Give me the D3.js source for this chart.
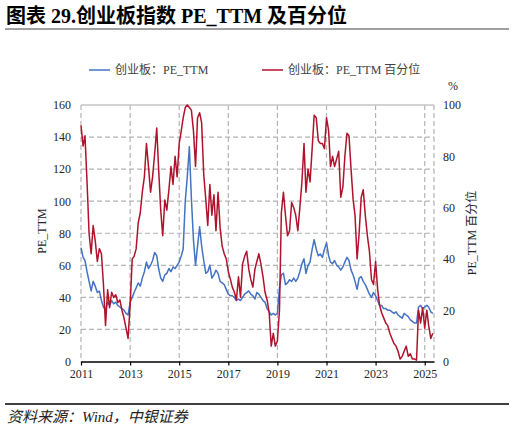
<!DOCTYPE html>
<html>
<head>
<meta charset="utf-8">
<script src="https://cdn.jsdelivr.net/npm/d3@7"></script>
<style>
  body { margin: 0; background: #fff; }
  svg { display: block; font-family: "Liberation Serif", "Noto Sans CJK SC", serif; }
</style>
</head>
<body>
<svg id="chart" width="514" height="431"></svg>
<script>
// monthly readings, Jan 2011 .. May 2025
const START_MONTH = new Date(2011, 0, 1);
const END_MONTH = new Date(2025, 5, 1);

// PE_TTM (left axis)
const peTTM = [
  71, 65, 63, 56, 50, 44, 50, 47, 43, 44, 38, 34, // 2011
  32, 37, 35, 38, 36, 37, 35, 34, 33, 32, 30, 29, // 2012
  37, 40, 43, 46, 49, 47, 52, 56, 62, 58, 60, 63, // 2013
  68, 66, 58, 52, 50, 54, 55, 58, 56, 59, 58, 60, // 2014
  62, 66, 70, 100, 115, 134, 102, 76, 60, 72, 84, 72, // 2015
  63, 55, 56, 60, 52, 54, 57, 55, 50, 49, 48, 45, // 2016
  42, 41, 41, 40, 38, 39, 38, 40, 42, 43, 44, 42, // 2017
  41, 39, 43, 42, 40, 38, 37, 33, 31, 29, 30, 29, // 2018
  30, 46, 54, 55, 48, 49, 51, 50, 52, 50, 52, 56, // 2019
  61, 64, 55, 60, 62, 70, 76, 70, 66, 67, 65, 70, // 2020
  74, 66, 62, 61, 63, 60, 59, 57, 59, 62, 65, 63, // 2021
  57, 54, 50, 45, 52, 53, 50, 48, 45, 42, 40, 43, // 2022
  41, 38, 35, 35, 33, 33, 32, 32, 31, 30, 31, 29, // 2023
  28, 27, 30, 29, 28, 26, 25, 24, 24, 34, 35, 33, // 2024
  34, 35, 34, 31, 30 // 2025
];

// PE_TTM percentile, % (right axis)
const peRank = [
  92, 84, 88, 70, 50, 42, 53, 47, 39, 44, 42, 30, // 2011
  14, 28, 21, 27, 25, 26, 23, 24, 20, 17, 13, 9, // 2012
  22, 40, 41, 44, 54, 58, 66, 72, 85, 76, 66, 72, // 2013
  81, 91, 75, 59, 49, 63, 59, 67, 76, 69, 80, 72, // 2014
  85, 90, 95, 99, 100, 99, 98, 90, 76, 95, 97, 93, // 2015
  73, 63, 53, 69, 57, 65, 51, 66, 52, 45, 42, 40, // 2016
  35, 32, 29, 27, 24, 33, 25, 38, 41, 43, 36, 32, // 2017
  29, 36, 39, 42, 38, 33, 27, 24, 19, 6, 11, 6, // 2018
  8, 20, 58, 66, 57, 49, 51, 62, 60, 57, 51, 60, // 2019
  70, 85, 66, 75, 70, 83, 96, 95, 86, 85, 85, 83, // 2020
  95, 90, 76, 80, 76, 79, 82, 64, 68, 80, 89, 88, // 2021
  75, 63, 57, 40, 50, 64, 67, 57, 49, 43, 32, 30, // 2022
  39, 28, 22, 19, 17, 15, 14, 11, 9, 7, 6, 4, // 2023
  1, 2, 4, 6, 2, 3, 1, 1, 0.5, 20, 15, 21, // 2024
  13, 20, 14, 9, 11 // 2025
];

const xTickLabels = ["2011", "2013", "2015", "2017", "2019", "2021", "2023", "2025"];
const leftTicks = [0, 20, 40, 60, 80, 100, 120, 140, 160];
const rightTicks = [0, 20, 40, 60, 80, 100];

const TITLE = "图表 29.创业板指数 PE_TTM 及百分位";
const SERIES_NAMES = ["创业板：PE_TTM", "创业板：PE_TTM 百分位"];
const SOURCE = "资料来源：Wind，中银证券";

const BLUE = "#4472c4";
const RED = "#b0122c";
const GRID = "#b4b4b4";

const months = d3.timeMonth.range(START_MONTH, END_MONTH);
const dataPE = months.map((d, i) => ({ date: d, v: peTTM[i] }));
const dataRank = months.map((d, i) => ({ date: d, v: peRank[i] }));

const SVG = d3.select("#chart");
const LEFT = 81, RIGHT = 434, TOP = 105, BOTTOM = 361.5;

const X = d3.scaleTime()
  .domain([new Date(2011, 0, 1), new Date(2025, 4, 19)])
  .range([LEFT, RIGHT]);
const Y_LEFT = d3.scaleLinear().domain([0, 160]).range([BOTTOM, TOP]);
const Y_RIGHT = d3.scaleLinear().domain([0, 100]).range([BOTTOM, TOP]);
const xTicks = xTickLabels.map((s) => new Date(+s, 0, 1));

// TITLE
SVG.append("text")
  .attr("x", 6)
  .attr("y", 23)
  .style("font-size", "20px")
  .style("font-weight", "bold")
  .style("fill", "#000")
  .text(TITLE);
SVG.append("line")
  .attr("x1", 5).attr("x2", 509)
  .attr("y1", 29).attr("y2", 29)
  .style("stroke", "#808080")
  .style("stroke-width", 1.5);

// LEGEND
const LEGEND = [
  { name: SERIES_NAMES[0], color: BLUE, x: 89 },
  { name: SERIES_NAMES[1], color: RED, x: 262 },
];
LEGEND.forEach((l) => {
  const g = SVG.append("g").attr("transform", `translate(${l.x},70)`);
  g.append("line")
    .attr("x1", 0).attr("x2", 21)
    .style("stroke", l.color)
    .style("stroke-width", 1.5);
  g.append("text")
    .attr("x", 26)
    .attr("y", 4)
    .style("font-size", "12px")
    .style("fill", "#404040")
    .text(l.name);
});

// GRID
const GRID_G = SVG.append("g").attr("id", "grid");
GRID_G.selectAll(".hgrid")
  .data(leftTicks.filter((t) => t > 0 && t < 160))
  .join("line")
  .attr("class", "hgrid")
  .attr("x1", LEFT).attr("x2", RIGHT)
  .attr("y1", (d) => Y_LEFT(d)).attr("y2", (d) => Y_LEFT(d))
  .style("stroke", GRID)
  .style("stroke-width", 1.2)
  .style("stroke-dasharray", "5,3");
GRID_G.selectAll(".vgrid")
  .data(xTicks)
  .join("line")
  .attr("class", "vgrid")
  .attr("x1", (d) => X(d)).attr("x2", (d) => X(d))
  .attr("y1", TOP).attr("y2", BOTTOM)
  .style("stroke", GRID)
  .style("stroke-width", 1.2)
  .style("stroke-dasharray", "5,3");
GRID_G.append("line")
  .attr("x1", RIGHT).attr("x2", RIGHT)
  .attr("y1", TOP).attr("y2", BOTTOM)
  .style("stroke", GRID)
  .style("stroke-width", 1.2)
  .style("stroke-dasharray", "5,3");
GRID_G.append("line")
  .attr("x1", LEFT).attr("x2", RIGHT)
  .attr("y1", Y_LEFT(160)).attr("y2", Y_LEFT(160))
  .style("stroke", "#c4c4c4")
  .style("stroke-width", 1.5);

// LINES
const linePE = d3.line().x((d) => X(d.date)).y((d) => Y_LEFT(d.v));
const lineRank = d3.line().x((d) => X(d.date)).y((d) => Y_RIGHT(d.v));
SVG.append("path")
  .datum(dataPE)
  .attr("d", linePE)
  .style("fill", "none")
  .style("stroke", BLUE)
  .style("stroke-width", 1.5)
  .style("stroke-linejoin", "round");
SVG.append("path")
  .datum(dataRank)
  .attr("d", lineRank)
  .style("fill", "none")
  .style("stroke", RED)
  .style("stroke-width", 1.5)
  .style("stroke-linejoin", "round");

// AXES
function styleAxis(g) {
  g.selectAll("text")
    .style("font-family", "'Liberation Serif', serif")
    .style("font-size", "12px")
    .style("fill", "#262626");
}
const Y_AXIS_L = d3.axisLeft(Y_LEFT).tickValues(leftTicks).tickSize(0).tickPadding(10);
const Y_AXIS_L_G = SVG.append("g").attr("transform", `translate(${LEFT},0)`);
Y_AXIS_L(Y_AXIS_L_G);
Y_AXIS_L_G.select(".domain").remove();
styleAxis(Y_AXIS_L_G);

const Y_AXIS_R = d3.axisRight(Y_RIGHT).tickValues(rightTicks).tickSize(0).tickPadding(9);
const Y_AXIS_R_G = SVG.append("g").attr("transform", `translate(${RIGHT},0)`);
Y_AXIS_R(Y_AXIS_R_G);
Y_AXIS_R_G.select(".domain").remove();
styleAxis(Y_AXIS_R_G);

const X_AXIS = d3.axisBottom(X)
  .tickValues(xTicks)
  .tickFormat(d3.timeFormat("%Y"))
  .tickSizeInner(4)
  .tickSizeOuter(0)
  .tickPadding(4);
const X_AXIS_G = SVG.append("g").attr("transform", `translate(0,${BOTTOM})`);
X_AXIS(X_AXIS_G);
X_AXIS_G.select(".domain").style("stroke", "#000").style("stroke-width", 1.3);
X_AXIS_G.selectAll(".tick line").style("stroke", "#000").style("stroke-width", 1.2);
styleAxis(X_AXIS_G);

// AXIS TITLES
SVG.append("text")
  .attr("transform", `translate(46,231) rotate(-90)`)
  .style("text-anchor", "middle")
  .style("font-size", "12px")
  .style("fill", "#262626")
  .text("PE_TTM");
SVG.append("text")
  .attr("transform", `translate(476,233) rotate(-90)`)
  .style("text-anchor", "middle")
  .style("font-size", "12px")
  .style("fill", "#262626")
  .text("PE_TTM 百分位");
SVG.append("text")
  .attr("x", 453)
  .attr("y", 90)
  .style("text-anchor", "middle")
  .style("font-size", "12px")
  .style("fill", "#262626")
  .text("%");

// SOURCE
SVG.append("line")
  .attr("x1", 5).attr("x2", 509)
  .attr("y1", 404).attr("y2", 404)
  .style("stroke", "#000")
  .style("stroke-width", 1.5);
SVG.append("text")
  .attr("x", 7)
  .attr("y", 422)
  .style("font-size", "15px")
  .style("font-style", "italic")
  .style("fill", "#222")
  .text(SOURCE);
</script>
</body>
</html>
